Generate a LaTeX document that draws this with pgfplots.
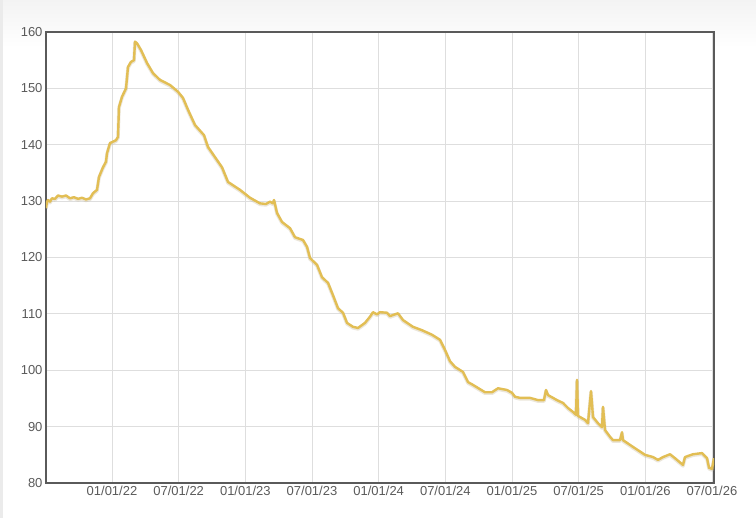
\documentclass[border=0pt]{standalone}
\usepackage{pgfplots}
\pgfplotsset{compat=1.18}
\usepackage{fontspec}
\setmainfont{Liberation Sans}
\definecolor{linegold}{RGB}{226,190,84}
\definecolor{shadowgold}{RGB}{200,185,150}
\definecolor{axisgray}{RGB}{90,90,90}
\definecolor{gridgray}{RGB}{222,222,222}
\definecolor{labelgray}{RGB}{90,90,90}
\definecolor{topgray}{RGB}{243,243,243}
\definecolor{edgegray}{RGB}{235,235,235}
\begin{document}
\begin{tikzpicture}
\path[use as bounding box] (0pt,0pt) rectangle (756pt,518pt);
\shade[top color=topgray, bottom color=white] (0pt,470pt) rectangle (756pt,518pt);
\fill[edgegray] (0pt,0pt) rectangle (3pt,518pt);
\pgfplotstableread{
x y
-5.94 128.8
-5.85 129.8
-5.76 130.2
-5.58 129.9
-5.40 130.5
-5.13 130.4
-4.86 131.0
-4.50 130.8
-4.14 131.0
-3.78 130.5
-3.42 130.7
-3.06 130.4
-2.70 130.6
-2.34 130.3
-1.98 130.5
-1.71 131.4
-1.35 132.0
-1.17 134.3
-0.81 136.0
-0.54 137.0
-0.45 138.5
-0.18 140.3
0.36 140.8
0.54 141.4
0.63 146.7
0.90 148.5
1.26 150.0
1.44 153.8
1.71 154.7
1.98 155.0
2.07 158.3
2.25 158.0
2.61 156.8
3.15 154.5
3.69 152.7
4.32 151.5
5.22 150.6
5.94 149.4
6.39 148.3
6.84 146.2
7.47 143.5
8.28 141.7
8.64 139.6
9.27 137.8
9.90 136.0
10.44 133.4
11.52 132.0
12.42 130.6
13.32 129.6
13.86 129.5
14.22 129.9
14.49 129.6
14.58 130.2
14.85 127.9
15.30 126.3
16.02 125.2
16.47 123.6
17.19 123.1
17.55 121.9
17.82 119.9
18.45 118.7
18.90 116.5
19.44 115.5
19.89 113.3
20.34 111.0
20.79 110.2
21.15 108.4
21.69 107.7
22.14 107.5
22.77 108.4
23.22 109.5
23.49 110.3
23.85 109.9
24.12 110.3
24.75 110.2
25.02 109.6
25.29 109.8
25.74 110.1
26.19 108.9
27.09 107.7
27.90 107.1
28.80 106.3
29.52 105.4
29.97 103.6
30.42 101.6
30.87 100.6
31.59 99.7
32.04 97.9
32.49 97.4
33.57 96.1
34.20 96.1
34.74 96.8
35.55 96.5
36.00 96.0
36.27 95.3
36.72 95.1
37.62 95.1
38.34 94.7
38.88 94.7
39.06 96.5
39.24 95.6
40.05 94.7
40.59 94.2
41.04 93.3
41.49 92.6
41.76 92.1
41.85 98.3
41.94 91.9
42.57 91.2
42.84 90.6
43.11 96.3
43.29 91.7
43.74 90.6
44.10 89.9
44.19 93.5
44.37 89.4
44.82 88.2
45.09 87.6
45.72 87.6
45.90 89.0
45.99 87.6
46.89 86.4
47.97 85.0
48.69 84.6
49.14 84.1
49.59 84.6
50.22 85.1
50.67 84.4
51.39 83.2
51.57 84.6
52.29 85.1
53.10 85.3
53.55 84.4
53.73 82.7
54.00 82.5
54.18 84.4
}\pricedata
\begin{axis}[
  at={(46pt,35pt)}, anchor=south west,
  scale only axis, width=668pt, height=451pt,
  xmin=-5.94, xmax=54.18, ymin=80, ymax=160,
  xtick={0,6,12,18,24,30,36,42,48,54},
  xticklabels={01/01/22,07/01/22,01/01/23,07/01/23,01/01/24,07/01/24,01/01/25,07/01/25,01/01/26,07/01/26},
  ytick={80,90,100,110,120,130,140,150,160},
  major tick length=0pt,
  grid=major,
  major grid style={gridgray, line width=1pt},
  axis line style={axisgray, line width=2pt},
  tick label style={font=\fontsize{13}{15}\selectfont, text=labelgray},
  /pgf/number format/assume math mode=true,
  axis background/.style={fill=white},
]
\addplot[shadowgold, line width=3.5pt, opacity=0.35, line join=round, forget plot, yshift=-1pt] table[x=x,y=y] {\pricedata};
\addplot[linegold, line width=2.4pt, line join=round] table[x=x,y=y] {\pricedata};
\end{axis}
\end{tikzpicture}
\end{document}
